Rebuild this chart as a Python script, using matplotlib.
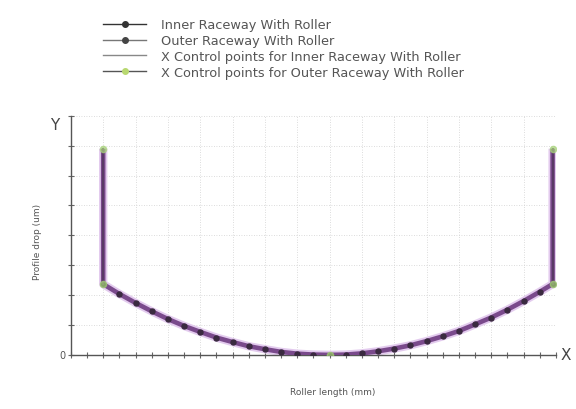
import matplotlib
matplotlib.use("Agg")
import matplotlib.pyplot as plt
from matplotlib.lines import Line2D

# Crown profile, x in axis units, y in axis units
crown_x = [2.0, 3.0, 4.0, 5.0, 6.0, 7.0, 8.0, 9.0, 10.0, 11.0, 12.0, 13.0, 14.0, 15.0,
           16.0, 17.0, 18.0, 19.0, 20.0, 21.0, 22.0, 23.0, 24.0, 25.0, 26.0, 27.0, 28.0,
           29.0, 29.8]
crown_y = [2.37, 2.04, 1.74, 1.46, 1.20, 0.97, 0.77, 0.58, 0.43, 0.29, 0.19, 0.10, 0.04,
           0.01, 0.00, 0.01, 0.05, 0.12, 0.21, 0.32, 0.46, 0.62, 0.80, 1.02, 1.25, 1.51,
           1.80, 2.11, 2.37]
# Vertical end segments
left_x = [2.0, 2.0, 2.0, 2.0, 2.0, 2.0]
right_x = [29.8, 29.8, 29.8, 29.8, 29.8, 29.8]
end_y = [2.37, 3.3, 4.2, 5.1, 6.0, 6.9]
# Control points
ctrl_x = [2.0, 2.0, 16.0, 29.8, 29.8]
ctrl_y = [6.9, 2.37, 0.0, 2.37, 6.9]

legend_labels = ["Inner Raceway With Roller", "Outer Raceway With Roller",
                 "X Control points for Inner Raceway With Roller",
                 "X Control points for Outer Raceway With Roller"]

fig = plt.figure(figsize=(5.76, 4.10), dpi=100)
ax = fig.add_axes([0.123, 0.132, 0.842, 0.583])

purple = "#7a4a8c"
halo = "#e3cbee"

xs = left_x[::-1] + crown_x + right_x
ys = end_y[::-1] + crown_y + end_y
ax.plot(xs, ys, color=halo, lw=6, solid_capstyle="butt", zorder=2)
ax.plot(xs, ys, color=purple, lw=3.3, solid_capstyle="butt", zorder=3)
# inner raceway markers
ax.plot(crown_x, crown_y, linestyle="none", marker="o", ms=3.6, color="#3a2a40", zorder=4)
ax.plot(left_x, end_y, color="#5a3a66", lw=1.5, zorder=4)
ax.plot(right_x, end_y, color="#5a3a66", lw=1.5, zorder=4)
# control points
ax.plot(ctrl_x, ctrl_y, linestyle="none", marker="o", ms=4.5, color="#a8d47a", alpha=0.7, zorder=5)

ax.set_xlim(0, 30)
ax.set_ylim(0, 8)
ax.set_xticks(range(0, 31))
ax.set_yticks(range(0, 9))
ax.set_xticklabels([])
ax.set_yticklabels([])
ax.tick_params(direction="inout", length=4, width=0.8, color="#666666")
for gx in range(2, 31, 2):
    ax.axvline(gx, color="#d0d0d0", lw=0.6, ls=(0, (1, 2)), zorder=1)
for gy in range(1, 9):
    ax.axhline(gy, color="#d0d0d0", lw=0.6, ls=(0, (1, 2)), zorder=1)

for s in ["top", "right"]:
    ax.spines[s].set_visible(False)
for s in ["left", "bottom"]:
    ax.spines[s].set_color("#555555")
    ax.spines[s].set_linewidth(1.0)

fig.text(62 / 576, 1 - 356 / 410, "0", fontsize=7, color="#555555", ha="center", va="center")
fig.text(55 / 576, 1 - 125 / 410, "Y", fontsize=11, color="#444444", ha="center", va="center")
fig.text(566 / 576, 1 - 356 / 410, "X", fontsize=11, color="#444444", ha="center", va="center")
fig.text(37 / 576, 1 - 242 / 410, "Profile drop (um)", fontsize=6.5, color="#555555",
         rotation=90, ha="center", va="center")
fig.text(333 / 576, 1 - 393 / 410, "Roller length (mm)", fontsize=6.5, color="#555555",
         ha="center", va="center")

handles = [
    Line2D([], [], color="#333333", lw=1, marker="o", ms=4),
    Line2D([], [], color="#777777", lw=1, marker="o", ms=4, mfc="#444444", mec="#444444"),
    Line2D([], [], color="#888888", lw=1),
    Line2D([], [], color="#555555", lw=1, marker="o", ms=4, mfc="#b8d870", mec="#b8d870"),
]
fig.legend(handles, legend_labels, loc="upper left", bbox_to_anchor=(93 / 576, 1 - 9 / 410),
           frameon=False, fontsize=9.3, handlelength=3.3, labelspacing=0.22, handletextpad=1.2,
           labelcolor="#555555", borderpad=0.3)

fig.savefig("out.png", dpi=100, facecolor="white")
